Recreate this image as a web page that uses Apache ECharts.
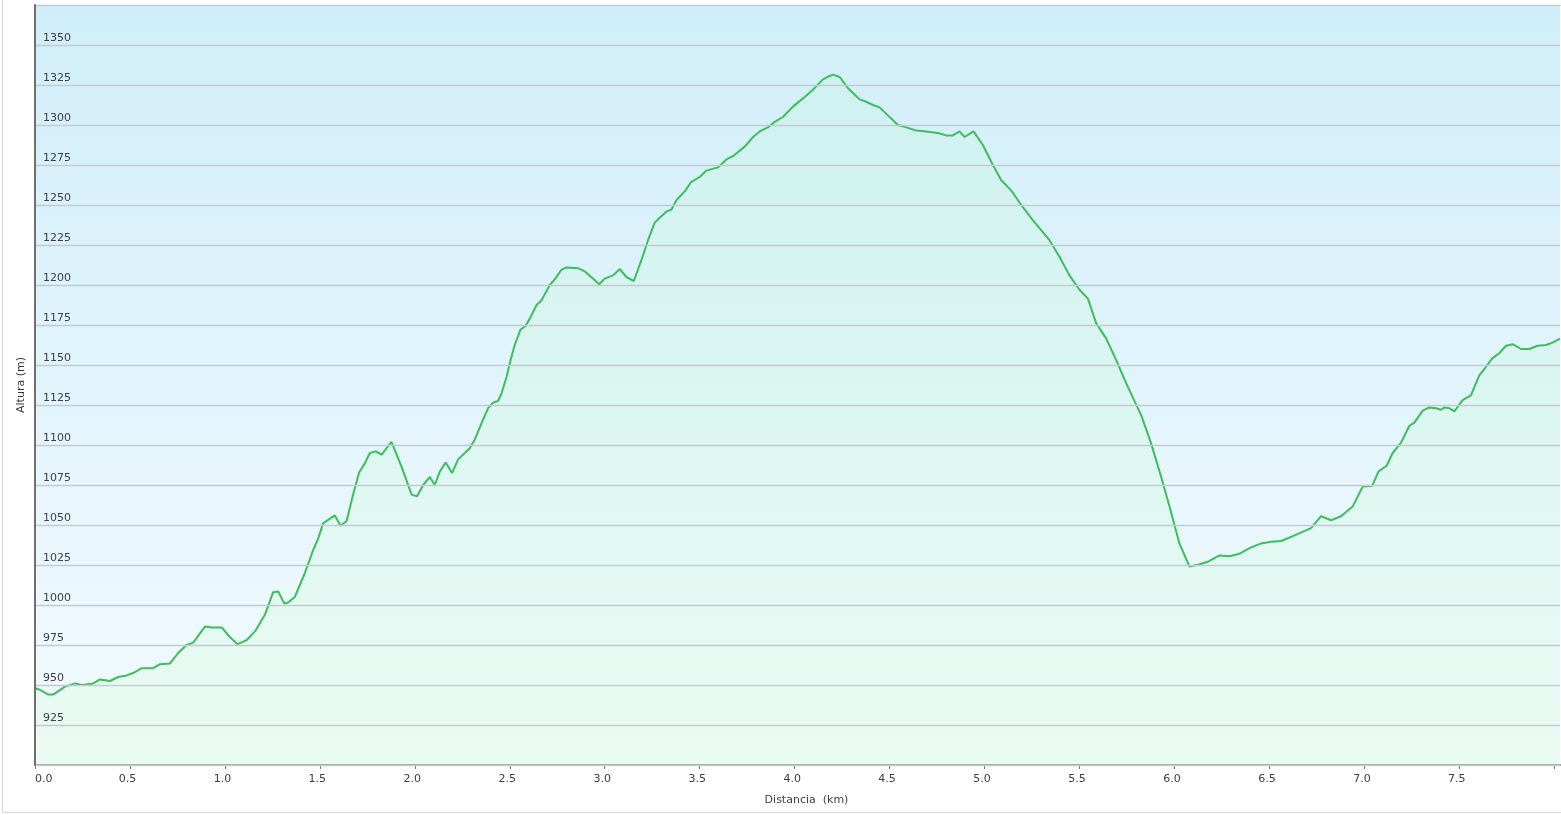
<!DOCTYPE html>
<html>
<head>
<meta charset="utf-8">
<script src="https://cdn.jsdelivr.net/npm/echarts@6/dist/echarts.min.js"></script>
<style>
html,body{margin:0;padding:0;background:#fff;overflow:hidden;}
#chart{width:1561px;height:815px;}
</style>
</head>
<body>
<div id="chart"></div>
<script>
// Distance along route (km)
const distKm = [0.000,0.026,0.070,0.096,0.158,0.211,0.246,0.307,0.342,0.395,0.438,0.483,0.526,0.562,0.623,0.658,0.711,0.754,0.798,0.833,0.895,0.930,0.983,1.026,1.067,1.114,1.162,1.211,1.254,1.281,1.312,1.333,1.368,1.421,1.465,1.491,1.517,1.553,1.579,1.609,1.641,1.675,1.707,1.737,1.763,1.795,1.825,1.877,1.930,1.983,2.012,2.044,2.079,2.105,2.132,2.163,2.196,2.228,2.263,2.289,2.316,2.351,2.386,2.412,2.438,2.456,2.483,2.504,2.526,2.556,2.584,2.614,2.641,2.667,2.711,2.737,2.772,2.798,2.859,2.895,2.938,2.970,3.000,3.044,3.079,3.114,3.153,3.193,3.228,3.263,3.298,3.325,3.351,3.377,3.421,3.456,3.500,3.535,3.596,3.641,3.675,3.737,3.781,3.816,3.859,3.895,3.938,3.991,4.053,4.096,4.149,4.181,4.202,4.237,4.281,4.307,4.342,4.368,4.412,4.447,4.491,4.544,4.588,4.641,4.693,4.754,4.798,4.833,4.868,4.895,4.942,4.991,5.044,5.088,5.141,5.193,5.254,5.342,5.395,5.447,5.500,5.544,5.588,5.641,5.693,5.746,5.825,5.877,5.930,5.974,6.026,6.079,6.132,6.175,6.237,6.289,6.342,6.395,6.456,6.509,6.562,6.623,6.719,6.772,6.825,6.877,6.938,6.991,7.041,7.075,7.117,7.149,7.193,7.237,7.263,7.307,7.342,7.377,7.404,7.421,7.447,7.474,7.517,7.561,7.605,7.632,7.672,7.711,7.746,7.781,7.825,7.868,7.912,7.956,7.991,8.030];
// Altitude (m)
const altM = [948,947,944,944,949,951,950,951,953.5,952.5,955,956,958,960.5,960.5,963,963.5,970,975,976.5,986.5,986,986,980,975.5,978,984,994,1008,1008.5,1001,1001.5,1005,1020,1034.5,1041.5,1051,1054,1056,1049.5,1052.5,1069,1083,1088.5,1095,1096,1094,1102,1086.5,1069,1068,1075,1080,1075,1083.5,1089,1082.5,1091,1095,1098,1103.5,1113.5,1123,1126.5,1127.5,1132,1142.5,1153,1162.5,1172,1174.5,1181,1187.5,1190.5,1200,1203.5,1209.5,1211,1210.5,1208.5,1204,1200.5,1204,1206,1210,1205,1202.5,1215.5,1228,1239,1243,1246,1247,1253,1258.5,1264.5,1267.5,1271.5,1273.5,1278.5,1280.5,1286.5,1292.5,1296,1298.5,1302,1305,1311.5,1317.5,1322,1328.5,1330.5,1331.5,1330,1323,1320,1316,1315,1312.5,1311,1306,1300,1298.5,1296.5,1296,1295,1293.5,1293.5,1296,1292.5,1296,1287.5,1275,1265.5,1259,1250,1240.5,1228,1217.5,1206,1197,1191.5,1176,1166.5,1153,1138.5,1118.5,1101,1080,1061.5,1038.5,1024,1025.5,1027,1031,1030.5,1032,1035.5,1038.5,1039.5,1040,1043,1048,1055.5,1053,1055.5,1061.5,1074,1074.5,1083.5,1087,1095,1101.5,1112,1114,1121.5,1123.5,1123,1122,1123.5,1123,1121,1128,1131,1143.5,1147.5,1154,1157.5,1162,1163,1160,1160,1162,1162.5,1164,1166.5];

const xAxisName = 'Distancia  (km)';
const yAxisName = 'Altura (m)';

const seriesData = distKm.map((d, i) => [d, altM[i]]);

const chart = echarts.init(document.getElementById('chart'));
const font = 'DejaVu Sans, Verdana, sans-serif';
chart.setOption({
  animation: false,
  backgroundColor: '#ffffff',
  grid: {
    left: 35, right: 1, top: 5, bottom: 50,
    show: true,
    borderWidth: 0,
    backgroundColor: {
      type: 'linear', x: 0, y: 0, x2: 0, y2: 1,
      colorStops: [
        {offset: 0, color: '#d0eef9'},
        {offset: 1, color: '#f3fbfe'}
      ]
    }
  },
  graphic: [
    {type: 'line', shape: {x1: 2.5, y1: 0, x2: 2.5, y2: 813}, style: {stroke: '#d8d8d8', lineWidth: 1}, silent: true},
    {type: 'line', shape: {x1: 2, y1: 812.5, x2: 1561, y2: 812.5}, style: {stroke: '#d8d8d8', lineWidth: 1}, silent: true},
    {type: 'line', shape: {x1: 35, y1: 5.5, x2: 1561, y2: 5.5}, style: {stroke: '#d0d4d6', lineWidth: 1}, silent: true}
  ],
  xAxis: {
    type: 'value',
    min: 0, max: 8.03, interval: 0.5,
    name: xAxisName,
    nameLocation: 'middle',
    nameGap: 30,
    nameTextStyle: {fontFamily: font, fontSize: 11, color: '#3c3c4c', padding: [0, 0, 0, 18]},
    axisLine: {show: true, lineStyle: {color: '#8a8a8a', width: 2}},
    axisTick: {show: true, length: 4, lineStyle: {color: '#777', width: 1}},
    axisLabel: {
      fontFamily: font, fontSize: 11, color: '#3c3c4c', margin: 9,
      showMaxLabel: false, alignMinLabel: 'left',
      padding: [0, 5, 0, 0],
      formatter: v => (v > 7.9 ? '' : v.toFixed(1))
    },
    splitLine: {show: false}
  },
  yAxis: {
    type: 'value',
    z: 10,
    min: 900, max: 1375, interval: 25,
    name: yAxisName,
    nameLocation: 'middle',
    nameGap: -8,
    nameRotate: 90,
    nameTextStyle: {fontFamily: font, fontSize: 11, color: '#333344'},
    axisLine: {show: true, lineStyle: {color: '#707070', width: 2}},
    axisTick: {show: false},
    axisLabel: {
      inside: true, margin: 8, align: 'left', verticalAlign: 'bottom',
      padding: [0, 0, 1, 0],
      fontFamily: font, fontSize: 11, color: '#3c3c4c',
      showMinLabel: false, showMaxLabel: false,
      formatter: v => String(v)
    },
    splitLine: {show: true, lineStyle: {color: '#c3cbcf', width: 1.3}}
  },
  series: [{
    type: 'line',
    z: 2,
    data: seriesData,
    showSymbol: false,
    smooth: false,
    lineStyle: {color: '#3dbd5d', width: 2},
    itemStyle: {color: '#3dbd5d'},
    areaStyle: {
      origin: 'start',
      color: {
        type: 'linear', x: 0, y: 0, x2: 0, y2: 1,
        colorStops: [
          {offset: 0, color: 'rgba(190,248,205,0.30)'},
          {offset: 1, color: 'rgba(210,252,215,0.40)'}
        ]
      }
    }
  }]
});
</script>
</body>
</html>
